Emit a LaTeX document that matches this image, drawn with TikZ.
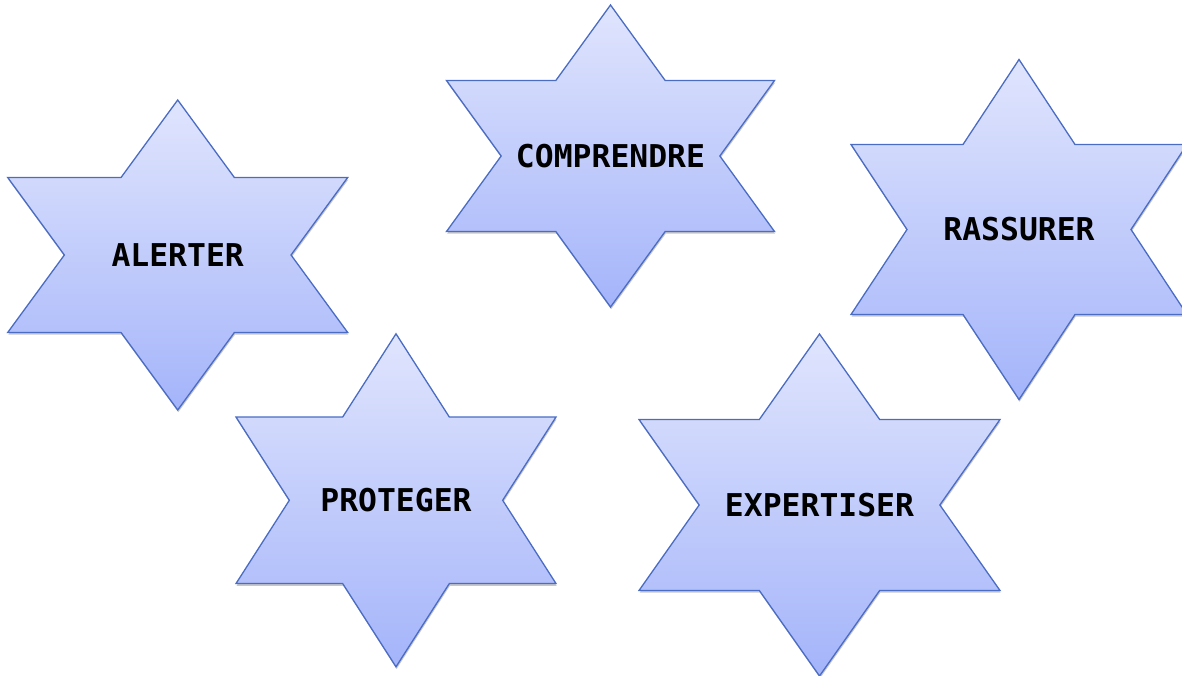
\documentclass[tikz,border=0pt]{standalone}
\usepackage{fontspec}
\newfontfamily\labelfont{DejaVu Sans Mono}
\usetikzlibrary{shadows}
\definecolor{startop}{HTML}{E0E5FD}
\definecolor{starbot}{HTML}{A4B4FA}
\definecolor{starline}{HTML}{4A6CC4}
\tikzset{
  starbody/.style={draw=starline, line width=1.3pt, line join=miter,
    top color=startop, bottom color=starbot,
    drop shadow={shadow xshift=0.6pt, shadow yshift=-2.2pt, opacity=0.22, fill=black}},
  starlabel/.style={inner sep=0pt, anchor=center, text=black,
    font=\labelfont\bfseries\fontsize{31.4}{36}\selectfont}
}
% #1 name, #2 cx, #3 cy, #4 half width, #5 half height, #6 text
\newcommand\hexstar[6]{%
  \path[starbody]
    (#2, #3-#5) -- (#2+#4/3, #3-#5/2) -- (#2+#4, #3-#5/2) -- (#2+2*#4/3, #3)
    -- (#2+#4, #3+#5/2) -- (#2+#4/3, #3+#5/2) -- (#2, #3+#5)
    -- (#2-#4/3, #3+#5/2) -- (#2-#4, #3+#5/2) -- (#2-2*#4/3, #3)
    -- (#2-#4, #3-#5/2) -- (#2-#4/3, #3-#5/2) -- cycle;
  \node[starlabel] (#1) at (#2,#3) {#6};
}
\begin{document}
\begin{tikzpicture}[x=1pt,y=-1pt]
\useasboundingbox (0,0) rectangle (1182,676);
\clip (0,0) rectangle (1182,676);
\hexstar{alerter}{177.7}{255}{170}{155}{ALERTER}
\hexstar{comprendre}{610.5}{156}{164}{151}{COMPRENDRE}
\hexstar{rassurer}{1019}{229.5}{168}{170}{RASSURER}
\hexstar{proteger}{396}{500.3}{160}{166.5}{PROTEGER}
\hexstar{expertiser}{819.5}{505}{180.5}{171}{EXPERTISER}
\end{tikzpicture}
\end{document}
